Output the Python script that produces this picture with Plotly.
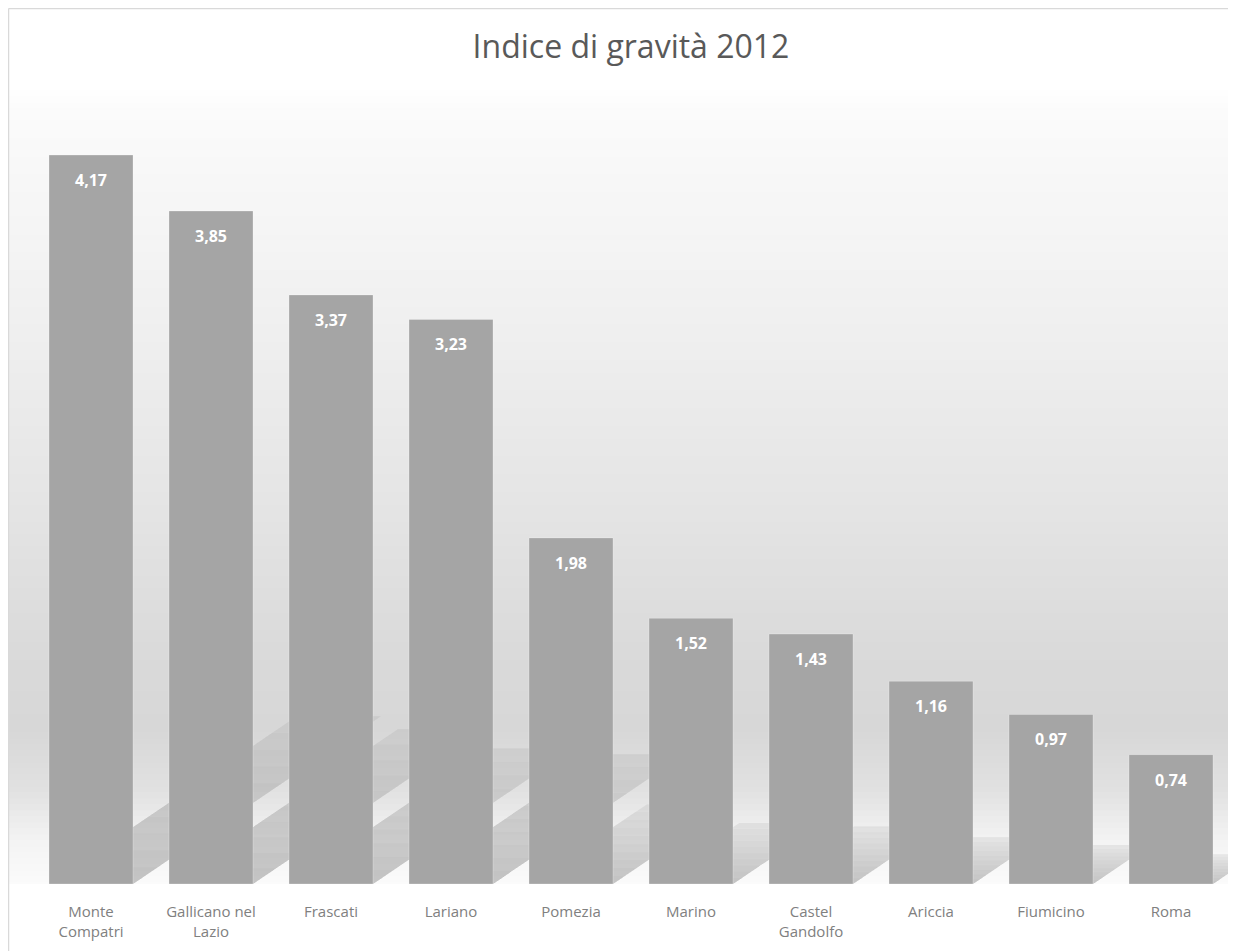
import plotly.graph_objects as go

categories = ["Monte<br>Compatri", "Gallicano nel<br>Lazio", "Frascati", "Lariano", "Pomezia",
              "Marino", "Castel<br>Gandolfo", "Ariccia", "Fiumicino", "Roma"]
values = [4.17, 3.85, 3.37, 3.23, 1.98, 1.52, 1.43, 1.16, 0.97, 0.74]
labels = [f"{v:.2f}".replace(".", ",") for v in values]
title_text = "Indice di gravità 2012"

OFF = 8  # page body margin
W, H = 1236 - OFF, 951 - OFF
L, R, T, B = 31 - OFF, 5, 100 - OFF, 67
plot_w = W - L - R
plot_h = H - T - B
ymax = 4.485
bar_w = 0.7
px_per_unit = plot_h / ymax
px_per_cat = plot_w / len(values)

x = list(range(len(values)))

fig = go.Figure()
fig.add_trace(go.Bar(
    x=x, y=values, width=bar_w,
    marker=dict(color="#a5a5a5", line=dict(color="rgba(255,255,255,0.25)", width=1)),
    hoverinfo="skip",
))

shapes = []

# background gradient (window pixel rows -> gray level)
stops = [(85, 255), (110, 251), (300, 241), (500, 229), (650, 218), (730, 215),
         (790, 225), (840, 243), (884, 251)]

def gray_at(ypx):
    for (y0, g0), (y1, g1) in zip(stops[:-1], stops[1:]):
        if y0 <= ypx <= y1:
            return g0 + (g1 - g0) * (ypx - y0) / (y1 - y0)
    return 255

def py(ywin):
    return (H - B - (ywin - OFF)) / plot_h

def px(xwin):
    return ((xwin - OFF) - L) / plot_w

xl_paper = px(9)
xr_paper = px(1240)
step = 6
ypx = 85
while ypx < 884:
    y2 = min(ypx + step, 884)
    g = int(round(gray_at((ypx + y2) / 2)))
    c = f"rgb({g},{g},{g})"
    shapes.append(dict(type="rect", xref="paper", yref="paper", x0=xl_paper, x1=xr_paper,
                       y0=py(y2), y1=py(ypx) + 0.001, fillcolor=c, line=dict(width=0),
                       layer="below"))
    ypx = y2

# perspective shadows derived from bar values (many nested layers -> soft fade)
shadow_layers = [(1.0, 0.08)] + [(k / 10, 0.03) for k in range(10, 0, -1)]
for i, v in enumerate(values):
    h_px = v * px_per_unit
    dx = 0.34 * h_px / px_per_cat
    dy = 0.23 * v
    xl, xr = i - bar_w / 2, i + bar_w / 2
    for t1, a in shadow_layers:
        path = (f"M {xl},0 L {xr},0 "
                f"L {xr + dx*t1},{dy*t1} L {xl + dx*t1},{dy*t1} Z")
        shapes.append(dict(type="path", xref="x", yref="y", path=path,
                           fillcolor=f"rgba(110,110,110,{a:.3f})", line=dict(width=0),
                           layer="below"))

# chart frame
shapes.append(dict(type="line", xref="paper", yref="paper",
                   x0=px(8.5), x1=1.2, y0=py(8.5), y1=py(8.5),
                   line=dict(color="#d9d9d9", width=1.5)))
shapes.append(dict(type="line", xref="paper", yref="paper",
                   x0=px(8.5), x1=px(8.5), y0=py(8.5), y1=-0.2,
                   line=dict(color="#d9d9d9", width=1.5)))

annotations = []
for i, (v, lab) in enumerate(zip(values, labels)):
    annotations.append(dict(x=i, y=v, xref="x", yref="y", text=f"<b>{lab}</b>",
                            showarrow=False, yanchor="middle", yshift=-25,
                            font=dict(family="Open Sans", size=16, color="white")))

fig.update_layout(
    width=W, height=H,
    margin=dict(l=L, r=R, t=T, b=B),
    paper_bgcolor="white", plot_bgcolor="rgba(0,0,0,0)",
    title=dict(text=title_text, x=(L + plot_w / 2) / W, xanchor="center",
               y=1 - (47 - OFF) / H, yanchor="middle",
               font=dict(family="Open Sans", size=32, color="#595959")),
    showlegend=False,
    shapes=shapes,
    annotations=annotations,
    xaxis=dict(tickmode="array", tickvals=x, ticktext=categories, range=[-0.5, len(values) - 0.5],
               showgrid=False, zeroline=False, showline=False,
               ticks="outside", ticklen=14, tickcolor="rgba(0,0,0,0)",
               tickfont=dict(family="Open Sans", size=15, color="#808080")),
    yaxis=dict(range=[0, ymax], visible=False, showgrid=False, zeroline=False),
    bargap=0.3,
)

fig.write_html("out.html")
